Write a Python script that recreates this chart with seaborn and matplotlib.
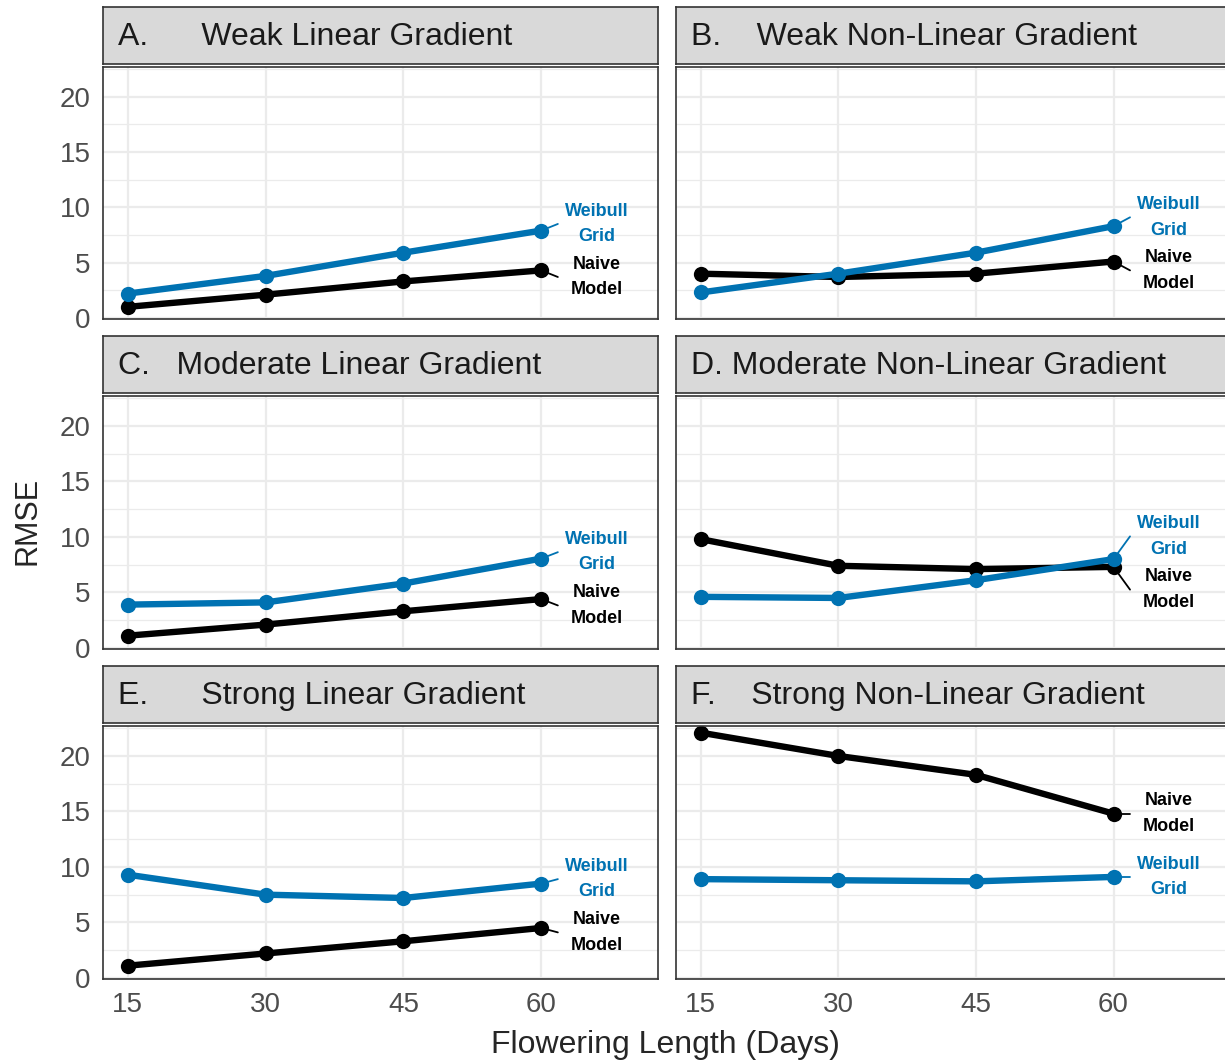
import matplotlib
matplotlib.use('Agg')
import pandas as pd
import matplotlib.pyplot as plt
import seaborn as sns

# Chart data
lengths = [15, 30, 45, 60]
panel_titles = [
    'A.      Weak Linear Gradient',
    'B.    Weak Non-Linear Gradient',
    'C.   Moderate Linear Gradient',
    'D. Moderate Non-Linear Gradient',
    'E.      Strong Linear Gradient',
    'F.    Strong Non-Linear Gradient',
]
weibull_grid = [
    [2.2, 3.8, 5.9, 7.9],
    [2.3, 4.0, 5.9, 8.3],
    [3.9, 4.1, 5.8, 8.05],
    [4.6, 4.5, 6.1, 8.0],
    [9.3, 7.5, 7.2, 8.5],
    [8.9, 8.8, 8.7, 9.1],
]
naive_model = [
    [1.0, 2.1, 3.3, 4.3],
    [4.0, 3.7, 4.0, 5.1],
    [1.1, 2.1, 3.3, 4.4],
    [9.8, 7.4, 7.1, 7.3],
    [1.1, 2.2, 3.3, 4.5],
    [22.1, 20.0, 18.3, 14.8],
]
model_names = ['Naive\nModel', 'Weibull\nGrid']

BLUE = '#0072B2'
palette = {'Naive\nModel': 'black', 'Weibull\nGrid': BLUE}

W, H = 1225, 1063
col_left = [103, 676]
col_width = [555, 554]
panel_rows = [(67, 319), (396, 649), (726, 979)]
STRIP_H = 57


def fx(px):
    return px / W


def fy(px):
    return 1 - px / H


# Simple repel for the two end labels
def label_positions(w_end, n_end, min_gap=4.8):
    if abs(w_end - n_end) >= min_gap:
        return w_end, n_end
    mid = (w_end + n_end) / 2
    sign = 1 if w_end >= n_end else -1
    return mid + sign * min_gap / 2, mid - sign * min_gap / 2


def draw_panel(fig, i):
    row, col = divmod(i, 2)
    top, bottom = panel_rows[row]
    ax = fig.add_axes([fx(col_left[col]), fy(bottom), fx(col_width[col]), (bottom - top) / H])

    df = pd.DataFrame({
        'length': lengths * 2,
        'rmse': naive_model[i] + weibull_grid[i],
        'model': [model_names[0]] * 4 + [model_names[1]] * 4,
    })
    sns.lineplot(data=df, x='length', y='rmse', hue='model', hue_order=model_names,
                 palette=palette, marker='o', markersize=11, markeredgewidth=0,
                 linewidth=4.6, legend=False, errorbar=None, ax=ax)

    # end labels with leader segments
    w_y, n_y = label_positions(weibull_grid[i][-1], naive_model[i][-1])
    for name, val, ly in [('Weibull\nGrid', weibull_grid[i][-1], w_y),
                          ('Naive\nModel', naive_model[i][-1], n_y)]:
        ax.plot([lengths[-1], 61.8], [val, ly], color=palette[name], lw=1.3, zorder=1)
        ax.text(66.0, ly, name, ha='center', va='center', fontsize=13,
                fontweight='bold', color=palette[name], linespacing=1.65)

    ax.set_xlim(12.3, 72.7)
    ax.set_ylim(-0.1, 22.7)
    ax.set_xticks(lengths)
    ax.set_yticks([0, 5, 10, 15, 20])
    ax.set_yticks([2.5, 7.5, 12.5, 17.5, 22.5], minor=True)
    ax.set_axisbelow(True)
    ax.grid(which='major', color='#EBEBEB', lw=1.6)
    ax.grid(which='minor', axis='y', color='#EBEBEB', lw=0.9)
    ax.tick_params(which='minor', length=0)
    ax.tick_params(which='major', length=5, width=1.2, color='#333333',
                   labelsize=20, labelcolor='#4D4D4D', pad=4)
    if col == 1:
        ax.tick_params(axis='y', length=0, labelleft=False)
    if row < 2:
        ax.tick_params(axis='x', length=0, labelbottom=False)
    ax.set_xlabel('')
    ax.set_ylabel('')
    for s in ax.spines.values():
        s.set_color('#333333')
        s.set_linewidth(1.2)

    # facet strip
    sax = fig.add_axes([fx(col_left[col]), fy(top - 3), fx(col_width[col]), STRIP_H / H])
    sax.set_facecolor('#D9D9D9')
    sax.set_xticks([])
    sax.set_yticks([])
    for s in sax.spines.values():
        s.set_color('#333333')
        s.set_linewidth(1.2)
    sax.text(15 / col_width[col], 0.48, panel_titles[i], transform=sax.transAxes,
             ha='left', va='center', fontsize=23, color='#1A1A1A')


def main():
    sns.set_style('white')
    plt.rcParams['font.family'] = ['Liberation Sans', 'DejaVu Sans']
    fig = plt.figure(figsize=(W / 100, H / 100), dpi=100)

    for i in range(6):
        draw_panel(fig, i)

    fig.text(fx(28), fy(521), 'RMSE', rotation=90, ha='center', va='center', fontsize=22)
    fig.text(fx(665), fy(1045), 'Flowering Length (Days)', ha='center', va='center', fontsize=23)

    fig.savefig('out.png', dpi=100)


if __name__ == '__main__':
    main()
